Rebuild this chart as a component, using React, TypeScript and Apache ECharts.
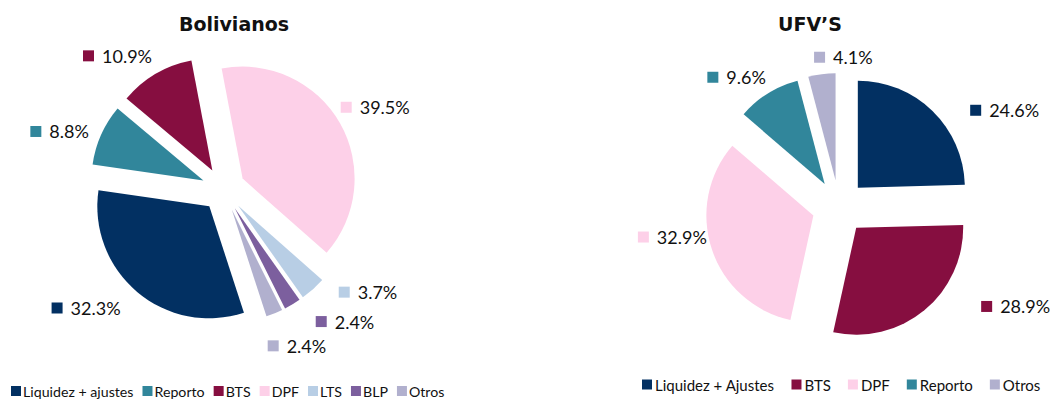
import { useEffect, useRef } from 'react';
import * as echarts from 'echarts';

const bolCategories = ['Liquidez + ajustes', 'Reporto', 'BTS', 'DPF', 'LTS', 'BLP', 'Otros'];
const bolValues = [32.3, 8.8, 10.9, 39.5, 3.7, 2.4, 2.4];
const ufvCategories = ['Liquidez + Ajustes', 'BTS', 'DPF', 'Reporto', 'Otros'];
const ufvValues = [24.6, 28.9, 32.9, 9.6, 4.1];

const colorMap: Record<string, string> = {
  'Liquidez + ajustes': '#023062',
  'Liquidez + Ajustes': '#023062',
  Reporto: '#31869B',
  BTS: '#860E40',
  DPF: '#FDD0E8',
  LTS: '#B8CEE5',
  BLP: '#7C5F9E',
  Otros: '#B1B0CE',
};

// label placement tweaks (styles)
const bolLen = [21, 8, 21, 32, 4, 20, 35];
const bolLen2 = [3, 5, -7, -27, 23, 13, -20];
const ufvLen = [1, -5, -39, 19, 17];
const ufvLen2 = [37, 60, 42, -8, -53];

const FONT = 'Lato';
const TITLE_FONT = 'DejaVu Sans';

function buildData(cats: string[], vals: number[], len: number[], len2: number[]) {
  return cats.map((c, i) => ({
    name: c,
    value: vals[i],
    selected: true,
    itemStyle: { color: colorMap[c] },
    labelLine: { show: false, length: len[i], length2: len2[i] },
    label: {
      formatter: () => `{s|}{t|${vals[i].toFixed(1)}%}`,
      rich: {
        s: { width: 11, height: 11, backgroundColor: colorMap[c] },
        t: { fontSize: 18, fontFamily: FONT, color: '#111', padding: [0, 0, 0, 8], lineHeight: 20 },
      },
    },
  }));
}

export default function App() {
  const ref = useRef<HTMLDivElement>(null);
  useEffect(() => {
    if (!ref.current) return;
    const chart = echarts.init(ref.current, undefined, { renderer: 'svg' });
    const pieCommon = {
      type: 'pie' as const,
      selectedMode: 'multiple' as const,
      avoidLabelOverlap: false,
      emphasis: { disabled: true },
      label: { show: true, position: 'outside' as const, distanceToLabelLine: 0 },
      itemStyle: { borderWidth: 0 },
    };
    chart.setOption({
      animation: false,
      title: [
        {
          text: 'Bolivianos',
          left: 229,
          top: 9,
          textAlign: 'center',
          textStyle: { fontSize: 19, fontWeight: 'bold', fontFamily: TITLE_FONT, color: '#111' },
        },
        {
          text: 'UFV’S',
          left: 805,
          top: 9,
          textAlign: 'center',
          textStyle: { fontSize: 19, fontWeight: 'bold', fontFamily: TITLE_FONT, color: '#111' },
        },
      ],
      legend: [
        {
          data: bolCategories,
          left: 6,
          top: 379,
          itemWidth: 10,
          itemHeight: 10,
          itemGap: 9,
          icon: 'rect',
          selectedMode: false,
          textStyle: { fontSize: 14.2, fontFamily: FONT, color: '#111', padding: [0, 0, 0, -3] },
        },
        {
          data: ufvCategories,
          left: 637,
          top: 372,
          itemWidth: 10,
          itemHeight: 10,
          itemGap: 17,
          icon: 'rect',
          selectedMode: false,
          textStyle: { fontSize: 15, fontFamily: FONT, color: '#111', padding: [0, 0, 0, -2] },
        },
      ],
      series: [
        {
          ...pieCommon,
          name: 'Bolivianos',
          center: [223.5, 189.5],
          radius: 112,
          startAngle: -72,
          selectedOffset: 22,
          data: buildData(bolCategories, bolValues, bolLen, bolLen2),
        },
        {
          ...pieCommon,
          name: 'UFV',
          center: [839, 207],
          radius: 107,
          startAngle: 90,
          selectedOffset: 27,
          data: buildData(ufvCategories, ufvValues, ufvLen, ufvLen2),
        },
      ],
    });
    return () => chart.dispose();
  }, []);
  return (
    <div
      ref={ref}
      style={{ position: 'fixed', left: 0, top: 0, width: 1054, height: 401, background: '#fff' }}
    />
  );
}
